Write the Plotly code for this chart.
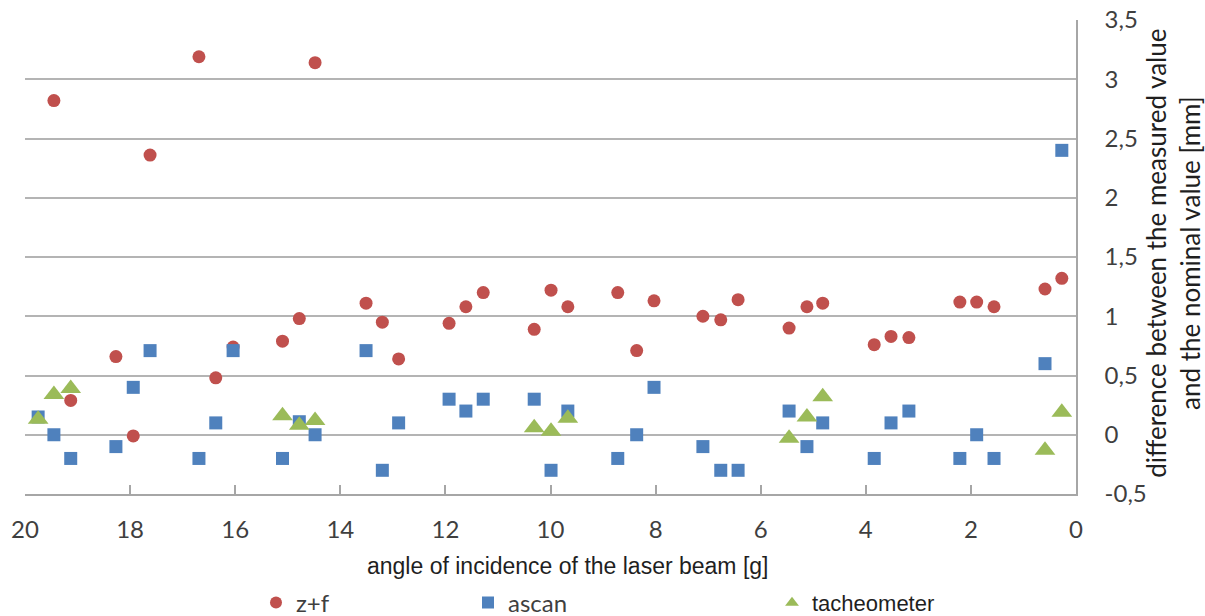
import plotly.graph_objects as go

# Angle of incidence of the laser beam [g] for each measured point
angle = [19.75, 19.45, 19.13, 18.27, 17.94, 17.62, 16.69, 16.37, 16.04,
         15.10, 14.78, 14.48, 13.51, 13.20, 12.89, 11.93, 11.61, 11.28,
         10.31, 9.99, 9.67, 8.72, 8.36, 8.03, 7.10, 6.76, 6.43,
         5.46, 5.12, 4.82, 3.84, 3.52, 3.18, 2.21, 1.89, 1.56, 0.59, 0.27]

# Difference between measured and nominal value [mm]
zf = [None, 2.82, 0.29, 0.66, -0.01, 2.36, 3.19, 0.48, 0.74,
      0.79, 0.98, 3.14, 1.11, 0.95, 0.64, 0.94, 1.08, 1.20,
      0.89, 1.22, 1.08, 1.20, 0.71, 1.13, 1.00, 0.97, 1.14,
      0.90, 1.08, 1.11, 0.76, 0.83, 0.82, 1.12, 1.12, 1.08, 1.23, 1.32]

ascan = [0.15, 0.00, -0.20, -0.10, 0.40, 0.71, -0.20, 0.10, 0.71,
         -0.20, 0.11, 0.00, 0.71, -0.30, 0.10, 0.30, 0.20, 0.30,
         0.30, -0.30, 0.20, -0.20, 0.00, 0.40, -0.10, -0.30, -0.30,
         0.20, -0.10, 0.10, -0.20, 0.10, 0.20, -0.20, 0.00, -0.20, 0.60, 2.40]

tacheometer = [0.13, 0.34, 0.39, None, None, None, None, None, None,
               0.16, 0.08, 0.12, None, None, None, None, None, None,
               0.06, 0.03, 0.14, None, None, None, None, None, None,
               -0.03, 0.15, 0.32, None, None, None, None, None, None, -0.13, 0.19]

y_ticks = [-0.5, 0, 0.5, 1, 1.5, 2, 2.5, 3, 3.5]
y_tick_labels = ["-0,5", "0", "0,5", "1", "1,5", "2", "2,5", "3", "3,5"]

RED = "#C0504D"
BLUE = "#4F81BD"
GREEN = "#9BBB59"
TICK_FONT = dict(family="Lato", size=24, color="#3F3F3F")

fig = go.Figure()
fig.add_trace(go.Scatter(x=angle, y=zf, mode="markers", name="z+f",
                         marker=dict(symbol="circle", size=13, color=RED),
                         legend="legend"))
fig.add_trace(go.Scatter(x=angle, y=ascan, mode="markers", name="ascan",
                         marker=dict(symbol="square", size=13, color=BLUE),
                         legend="legend2"))
fig.add_trace(go.Scatter(x=angle, y=tacheometer, mode="markers", name="tacheometer",
                         marker=dict(symbol="triangle-up", size=18, color=GREEN),
                         legend="legend3"))

# legends sit in the bottom strip, placed against the full canvas
legend_common = dict(orientation="h", xref="container", yref="container",
                     yanchor="middle", y=1 - 603 / 616, xanchor="left",
                     bgcolor="rgba(0,0,0,0)", itemsizing="constant")

fig.update_layout(
    width=1205, height=616,
    margin=dict(l=25, r=129, t=20, b=122, autoexpand=False),
    paper_bgcolor="white", plot_bgcolor="white",
    showlegend=True,
    legend=dict(x=256 / 1205, font=dict(family="Lato", size=24, color="#3F3F3F"), **legend_common),
    legend2=dict(x=468 / 1205, font=dict(family="Lato", size=24, color="#3F3F3F"), **legend_common),
    legend3=dict(x=772 / 1205, font=dict(family="Liberation Sans", size=22, color="#1F1F1F"), **legend_common),
    xaxis=dict(range=[20, 0], tick0=0, dtick=2, ticks="inside", ticklen=9,
               tickcolor="#A6A6A6", tickwidth=1.5,
               showline=True, linecolor="#A6A6A6", linewidth=1.5,
               showgrid=False, zeroline=False, tickfont=TICK_FONT,
               ticklabelstandoff=13),
    yaxis=dict(range=[-0.5, 3.5], side="right", tickvals=y_ticks, ticktext=y_tick_labels,
               showgrid=True, gridcolor="#B4B4B4", gridwidth=1.6,
               showline=True, linecolor="#A6A6A6", linewidth=1.5,
               ticks="", zeroline=False, tickfont=TICK_FONT,
               ticklabelstandoff=22),
    annotations=[
        dict(text="angle of incidence of the laser beam [g]", xref="paper", yref="paper",
             x=0.5157, y=-0.152, xanchor="center", yanchor="middle", showarrow=False,
             font=dict(family="Liberation Sans", size=23, color="#1F1F1F")),
        dict(text="difference between the measured value<br>and the nominal value [mm]",
             xref="paper", yref="paper", x=1.0928, y=0.508, xanchor="center", yanchor="middle",
             textangle=-90, showarrow=False,
             font=dict(family="Lato", size=26, color="#1F1F1F")),
    ],
)

fig.write_html("out.html")
